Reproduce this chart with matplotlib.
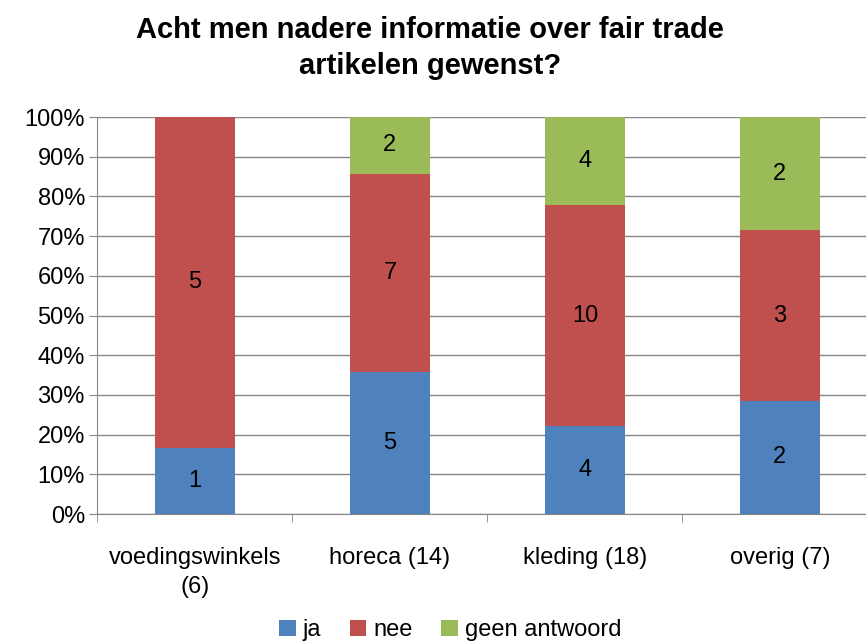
import matplotlib
matplotlib.use("Agg")
import matplotlib.pyplot as plt
import numpy as np

plt.rcParams['font.family'] = ['Liberation Sans', 'DejaVu Sans']

# data
categories = ['voedingswinkels\n(6)', 'horeca (14)', 'kleding (18)', 'overig (7)']
series_names = ['ja', 'nee', 'geen antwoord']
ja = [1, 5, 4, 2]
nee = [5, 7, 10, 3]
geen = [0, 2, 4, 2]
colors = ['#4F81BD', '#C0504D', '#9BBB59']

counts = np.array([ja, nee, geen], dtype=float)
totals = counts.sum(axis=0)
shares = counts / totals

fig = plt.figure(figsize=(8.66, 6.43), dpi=100)
ax = fig.add_axes([0.1125, 0.2006, 0.9007, 0.6174])

x = np.arange(len(categories))
bottom = np.zeros(len(categories))
for i, name in enumerate(series_names):
    ax.bar(x, shares[i], 0.41, bottom=bottom, color=colors[i], label=name, zorder=3)
    for j in range(len(categories)):
        if counts[i, j] > 0:
            ax.text(x[j], bottom[j] + shares[i, j] / 2, str(int(counts[i, j])),
                    ha='center', va='center', fontsize=17, zorder=4)
    bottom += shares[i]

ax.set_xlim(-0.5, 3.5)
ax.set_ylim(0, 1)
ax.set_yticks(np.arange(0, 1.01, 0.1))
ax.set_yticklabels([f'{int(round(v * 100))}%' for v in np.arange(0, 1.01, 0.1)], fontsize=17)
ax.yaxis.grid(True, color='#868686', linewidth=1, zorder=0)
ax.set_xticks(x)
ax.set_xticklabels(categories, fontsize=17, linespacing=1.4)
ax.set_xticks(np.arange(-0.5, 3.6, 1.0), minor=True)
ax.tick_params(axis='x', which='major', length=0, pad=24)
ax.tick_params(axis='x', which='minor', length=6, direction='out', color='#868686')
ax.tick_params(axis='y', length=6, direction='out', color='#868686', pad=3)
for side in ['top', 'right']:
    ax.spines[side].set_visible(False)
for side in ['left', 'bottom']:
    ax.spines[side].set_color('#868686')

fig.text(0.497, 0.925, 'Acht men nadere informatie over fair trade\nartikelen gewenst?',
         ha='center', va='center', fontsize=21, fontweight='bold', linespacing=1.35)

fig.legend(loc='lower center', bbox_to_anchor=(0.52, -0.03), ncol=3, frameon=False,
           fontsize=17, handlelength=0.7, handleheight=0.7, handletextpad=0.3,
           columnspacing=1.2)

fig.savefig('out.png', dpi=100)
